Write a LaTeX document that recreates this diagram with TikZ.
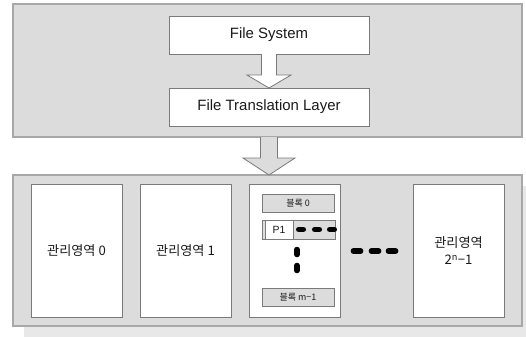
\documentclass[tikz,border=0pt]{standalone}
\usepackage{fontspec}
\setmainfont{Liberation Sans}
\newfontfamily\kr{Noto Sans CJK KR}
\usetikzlibrary{calc}
\definecolor{bggray}{HTML}{DCDCDC}
\definecolor{frame}{HTML}{A8A8A8}
\definecolor{edge}{HTML}{7A7A7A}
\definecolor{shadowc}{HTML}{E8E8E8}
\definecolor{inkc}{HTML}{1A1A1A}
\tikzset{
  panel/.style={draw=frame, fill=bggray, line width=1.2bp, inner sep=0pt, outer sep=0pt},
  layerbox/.style={draw=edge, fill=white, line width=0.8bp, inner sep=0pt, outer sep=0pt,
    minimum width=200bp, minimum height=38bp, font=\fontsize{15}{18}\selectfont, text=inkc},
  areabox/.style={draw=edge, fill=white, line width=0.8bp, inner sep=0pt, outer sep=0pt,
    minimum width=91bp, minimum height=133bp, align=center,
    font=\kr\fontsize{13.2}{17}\selectfont, text=inkc},
  blockbox/.style={draw=edge, fill=bggray, line width=0.8bp, inner sep=0pt, outer sep=0pt,
    minimum width=72bp, minimum height=18bp, font=\kr\fontsize{9}{10}\selectfont, text=inkc},
  pagebox/.style={draw=edge, fill=white, line width=0.8bp, inner sep=0pt, outer sep=0pt,
    minimum width=28bp, minimum height=19bp, font=\fontsize{10.5}{12}\selectfont, text=inkc},
  fatarrow/.style={draw=edge, line width=0.8bp, line join=miter},
  dotbar/.style={line width=5.5bp, line cap=round, black},
}
\begin{document}
\begin{tikzpicture}[x=1bp,y=-1bp]
\useasboundingbox (0,0) rectangle (526,336);
% upper panel
\node[panel, minimum width=509bp, minimum height=133bp] (top) at (267.5,70.5) {};
\node[layerbox] (fs) at (269,35) {File System};
\node[layerbox] (ftl) at (269,107) {File Translation Layer};
\draw[fatarrow, fill=white]
  ($(fs.south)+(-7.5,0)$) -- ($(fs.south)+(-7.5,21)$) -- ($(fs.south)+(-22,21)$)
  -- (ftl.north) -- ($(fs.south)+(22,21)$) -- ($(fs.south)+(7.5,21)$) -- ($(fs.south)+(7.5,0)$);
% lower panel with shadow
\coordinate (bnw) at (13,175);
\coordinate (bse) at (522,326);
\fill[shadowc] ($(bnw)+(11,11)$) rectangle ($(bse)+(11,11)$);
\node[panel, minimum width=509bp, minimum height=151bp] (bot) at (267.5,250.5) {};
% arrow between panels
\coordinate (a2) at (ftl.south |- top.south);
\draw[fatarrow, fill=bggray]
  ($(a2)+(-8.5,0)$) -- ($(a2)+(-8.5,21)$) -- ($(a2)+(-26,21)$)
  -- (ftl.south |- bot.north) -- ($(a2)+(26,21)$) -- ($(a2)+(8.5,21)$) -- ($(a2)+(8.5,0)$);
% management areas
\node[areabox] (m0) at (76.5,250.5) {관리영역 0};
\node[areabox] (m1) at (185.5,250.5) {관리영역 1};
\node[areabox] (m2) at (294.5,250.5) {};
\node[areabox] (mn) at (458.5,250.5) {관리영역\\2\textsuperscript{n}−1};
% inside the middle area
\node[blockbox] (b0) at (298,203) {블록 0};
\node[blockbox, minimum width=73bp, minimum height=19bp, text=black] (row) at (298.5,229.5) {};
\node[pagebox] (p1) at (279,229.5) {P1};
\node[blockbox] (bm) at (298,297) {블록 m−1};
% ellipsis marks
\foreach \x in {301,317,332} \draw[dotbar] (\x-2.3,229.5) -- (\x+2.3,229.5);
\foreach \y in {252,268} \draw[dotbar] (297,\y-2.5) -- (297,\y+2.5);
\foreach \x in {357,375,392} \draw[dotbar] (\x-3.6,251) -- (\x+3.6,251);
\end{tikzpicture}
\end{document}
